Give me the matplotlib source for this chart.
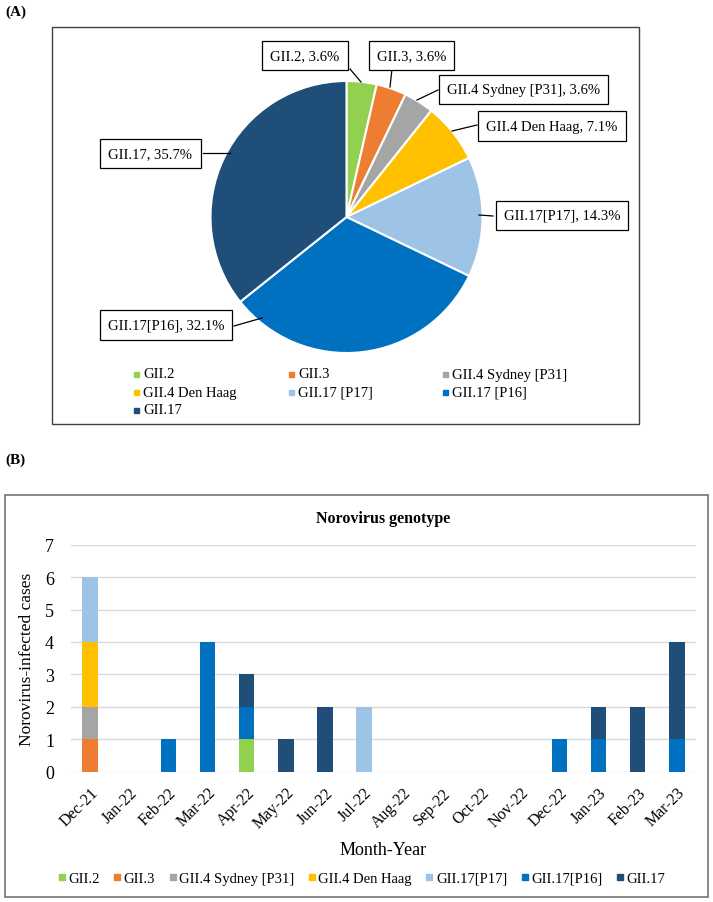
import numpy as np
import matplotlib.pyplot as plt
from matplotlib.patches import Rectangle
from matplotlib.lines import Line2D

plt.rcParams['font.family'] = ['Liberation Serif', 'DejaVu Serif']

# genotype names / colours
pie_names = ['GII.2', 'GII.3', 'GII.4 Sydney [P31]', 'GII.4 Den Haag',
             'GII.17 [P17]', 'GII.17 [P16]', 'GII.17']
bar_names = ['GII.2', 'GII.3', 'GII.4 Sydney [P31]', 'GII.4 Den Haag',
             'GII.17[P17]', 'GII.17[P16]', 'GII.17']
pie_labels = ['GII.2, 3.6%', 'GII.3, 3.6%', 'GII.4 Sydney [P31], 3.6%',
              'GII.4 Den Haag, 7.1%', 'GII.17[P17], 14.3%',
              'GII.17[P16], 32.1%', 'GII.17, 35.7%']
pie_counts = [1, 1, 1, 2, 4, 9, 10]
colors = ['#92D050', '#ED7D31', '#A5A5A5', '#FFC000', '#9DC3E6', '#0070C0', '#1F4E79']

months = ['Dec-21', 'Jan-22', 'Feb-22', 'Mar-22', 'Apr-22', 'May-22', 'Jun-22',
          'Jul-22', 'Aug-22', 'Sep-22', 'Oct-22', 'Nov-22', 'Dec-22', 'Jan-23',
          'Feb-23', 'Mar-23']
gii2     = [0, 0, 0, 0, 1, 0, 0, 0, 0, 0, 0, 0, 0, 0, 0, 0]
gii3     = [1, 0, 0, 0, 0, 0, 0, 0, 0, 0, 0, 0, 0, 0, 0, 0]
sydney   = [1, 0, 0, 0, 0, 0, 0, 0, 0, 0, 0, 0, 0, 0, 0, 0]
denhaag  = [2, 0, 0, 0, 0, 0, 0, 0, 0, 0, 0, 0, 0, 0, 0, 0]
gii17p17 = [2, 0, 0, 0, 0, 0, 0, 2, 0, 0, 0, 0, 0, 0, 0, 0]
gii17p16 = [0, 0, 1, 4, 1, 0, 0, 0, 0, 0, 0, 0, 1, 1, 0, 1]
gii17    = [0, 0, 0, 0, 1, 1, 2, 0, 0, 0, 0, 0, 0, 1, 2, 3]

W, H = 713, 903
fig = plt.figure(figsize=(W / 100, H / 100), dpi=100)

# overlay axes in pixel units (y measured from top)
ov = fig.add_axes([0, 0, 1, 1])
def Y(y):
    return H - y

# ---- panel A ----
cx, cy, r = 346.5, 218, 136
wedges, _ = ov.pie(pie_counts, colors=colors, startangle=90, counterclock=False,
                   center=(cx, Y(cy)), radius=r,
                   wedgeprops=dict(edgecolor='white', linewidth=1.5))
ov.set_xlim(0, W)
ov.set_ylim(0, H)
ov.set_aspect('auto')
ov.axis('off')

ov.text(5, Y(12), '(A)', fontsize=11, fontweight='bold', va='center', ha='left')
ov.add_patch(Rectangle((52, Y(425)), 587, 397, fill=False, ec='#404040', lw=1.0))

# label boxes (centre) and leader lines
box_pos = [(305, 56.5), (411.5, 56.5), (523.5, 90.5), (552, 127),
           (562, 216.5), (166, 326), (150.5, 154.5)]
leaders = [((350, 70), (361, 83)), ((392, 70), (390, 88)), ((438, 91), (417, 101)),
           ((477, 126), (452, 132)), ((493, 217), (479, 216)),
           ((234, 327), (262, 319)), ((203, 154), (230, 154))]
for lab, (bx, by), (p0, p1) in zip(pie_labels, box_pos, leaders):
    ov.plot([p0[0], p1[0]], [Y(p0[1]), Y(p1[1])], color='black', lw=0.9)
    ov.text(bx, Y(by), lab, fontsize=10.5, ha='center', va='center',
            bbox=dict(boxstyle='square,pad=0.55', fc='white', ec='black', lw=0.9))

# legend A (three columns)
leg_x = [136, 291, 445]
leg_y = [375, 393, 411]
for i, (name, c) in enumerate(zip(pie_names, colors)):
    lx = leg_x[i % 3]
    ly = leg_y[i // 3]
    ov.add_patch(Rectangle((lx - 2.5, Y(ly) - 2.5), 5, 5, color=c))
    ov.text(lx + 7, Y(ly), name, fontsize=10.5, va='center', ha='left')

# ---- panel B ----
ov.text(5, Y(460), '(B)', fontsize=11, fontweight='bold', va='center', ha='left')
ov.add_patch(Rectangle((5, Y(898)), 703, 402, fill=False, ec='#7F7F7F', lw=1.3))

ax = fig.add_axes([70.7 / W, (H - 772.7) / H, 625.6 / W, 227 / H])
x = np.arange(len(months))
series = [gii2, gii3, sydney, denhaag, gii17p17, gii17p16, gii17]
bottom = np.zeros(len(months))
for vals, c in zip(series, colors):
    ax.bar(x, vals, width=0.4, bottom=bottom, color=c, zorder=3)
    bottom += np.array(vals)

ax.set_xlim(-0.5, len(months) - 0.5)
ax.set_ylim(0, 7)
ax.set_yticks(range(8))
ax.yaxis.grid(True, color='#D9D9D9', lw=1.0, zorder=0)
for s in ax.spines.values():
    s.set_visible(False)
ax.tick_params(axis='both', length=0)
ax.tick_params(axis='y', labelsize=13, pad=12)
ax.set_xticks(x)
ax.set_xticklabels(months, rotation=45, ha='right', rotation_mode='anchor', fontsize=11.5)
ax.tick_params(axis='x', pad=9)
ax.set_title('Norovirus genotype', fontsize=11.5, fontweight='bold', pad=16)
ax.set_ylabel('Norovirus-infected cases', fontsize=12.5, labelpad=7)
ax.set_xlabel('Month-Year', fontsize=13, labelpad=7)

handles = [Line2D([], [], marker='s', ls='none', color=c, markersize=5) for c in colors]
ax.legend(handles, bar_names, loc='center', ncol=7, frameon=False, fontsize=10.5,
          bbox_to_anchor=(362 / W, Y(879) / H), bbox_transform=fig.transFigure,
          handlelength=0.4, handletextpad=0.25, columnspacing=1.0)

fig.savefig('out.png', dpi=100)
